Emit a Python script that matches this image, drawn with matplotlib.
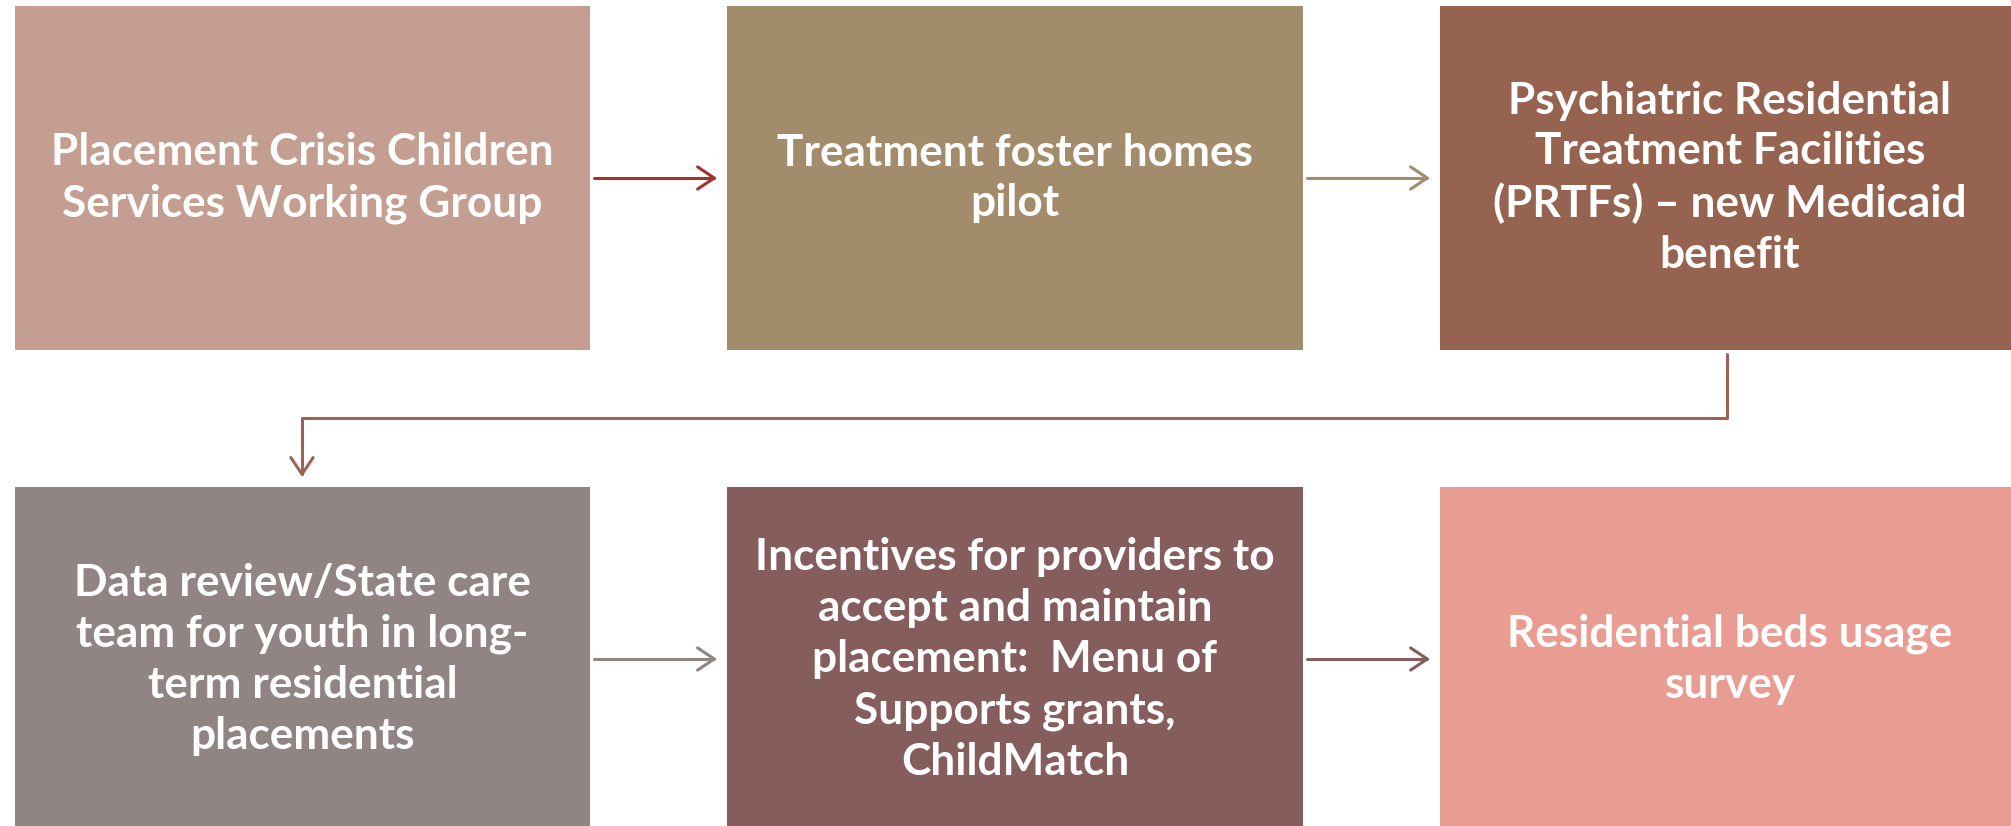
import matplotlib
matplotlib.use("Agg")
import matplotlib.pyplot as plt
from matplotlib.patches import Rectangle, FancyArrowPatch
from matplotlib.path import Path

# ---- content ----
labels = [
    "Placement Crisis Children\nServices Working Group",
    "Treatment foster homes\npilot",
    "Psychiatric Residential\nTreatment Facilities\n(PRTFs) \u2013 new Medicaid\nbenefit",
    "Data review/State care\nteam for youth in long-\nterm residential\nplacements",
    "Incentives for providers to\naccept and maintain\nplacement:  Menu of\nSupports grants,\nChildMatch",
    "Residential beds usage\nsurvey",
]
box_colors = ["#C49E91", "#A38C6B", "#966351", "#918584", "#855D5C", "#E99C92"]
arrow_colors = ["#A3342A", "#A38C6B", "#9A6455", "#918584", "#855D5C"]

# ---- layout (pixels) ----
W, H = 2011, 826
col_x = [15, 727, 1440]
box_w = [575, 576, 580]
row_y = [6, 487]
box_h = [344, 345]

fig = plt.figure(figsize=(W / 100, H / 100), dpi=100)
ax = fig.add_axes([0, 0, 1, 1])
ax.set_xlim(0, W)
ax.set_ylim(H, 0)
ax.axis("off")

font = dict(family=["Lato", "DejaVu Sans"], weight="bold", color="white",
            fontsize=31.8, ha="center", va="center", linespacing=1.33)

for i, (lab, col) in enumerate(zip(labels, box_colors)):
    r, c = divmod(i, 3)
    x, y, w, h = col_x[c], row_y[r], box_w[c], box_h[r]
    ax.add_patch(Rectangle((x, y), w, h, facecolor=col, edgecolor="none"))
    ax.text(x + w / 2, y + h / 2, lab, **font)

def arrow(pts, color):
    codes = [Path.MOVETO] + [Path.LINETO] * (len(pts) - 1)
    p = FancyArrowPatch(path=Path(pts, codes), arrowstyle="->,head_length=12,head_width=8",
                        color=color, lw=2.2, mutation_scale=1, shrinkA=0, shrinkB=0)
    ax.add_patch(p)

row_mid = [178, 659]
gaps = [(594, 717), (1307, 1430)]
arrow([(gaps[0][0], row_mid[0]), (gaps[0][1], row_mid[0])], arrow_colors[0])
arrow([(gaps[1][0], row_mid[0]), (gaps[1][1], row_mid[0])], arrow_colors[1])
arrow([(1727, 354), (1727, 418), (302, 418), (302, 477)], arrow_colors[2])
arrow([(gaps[0][0], row_mid[1]), (gaps[0][1], row_mid[1])], arrow_colors[3])
arrow([(gaps[1][0], row_mid[1]), (gaps[1][1], row_mid[1])], arrow_colors[4])

fig.savefig("out.png", dpi=100, facecolor="white")
